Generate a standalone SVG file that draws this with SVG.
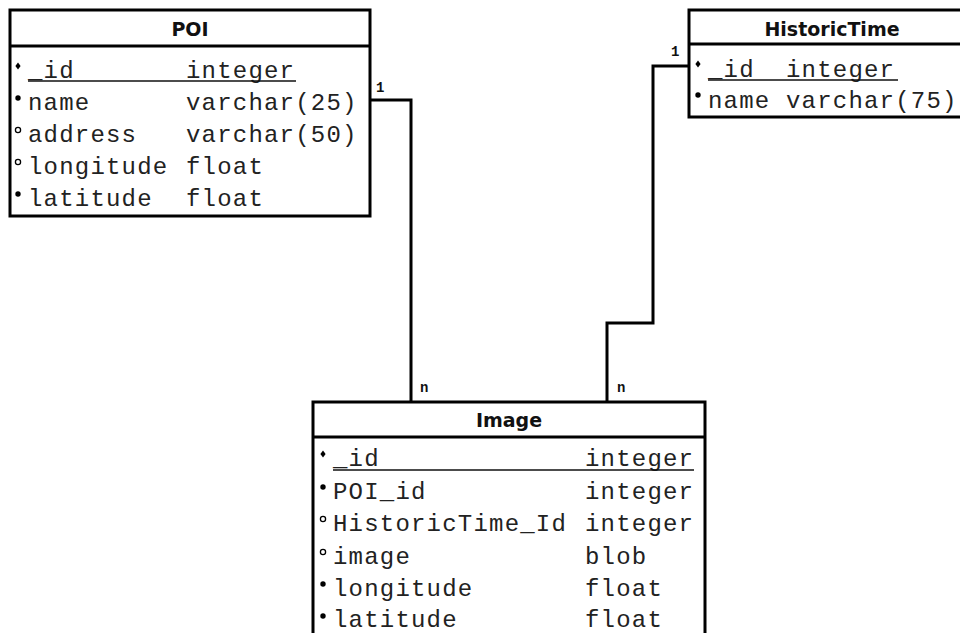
<svg xmlns="http://www.w3.org/2000/svg" width="960" height="633" viewBox="0 0 960 633">
  <style>
    .box { fill: #fff; stroke: #000; stroke-width: 3; }
    .sep { stroke: #000; stroke-width: 3; }
    .ul { stroke: #111; stroke-width: 1.4; }
    .title { font-family: "DejaVu Sans", Verdana, sans-serif; font-weight: bold; font-size: 19px; fill: #111; text-anchor: middle; }
    .col { font-family: "Liberation Mono", "Courier New", monospace; font-size: 24px; letter-spacing: 1.2px; fill: #222; }
    .card { font-family: "Liberation Mono", "Courier New", monospace; font-weight: bold; font-size: 14px; fill: #111; }
    .req { fill: #000; }
    .opt { fill: none; stroke: #000; stroke-width: 1.3; }
    .wire { fill: none; stroke: #000; stroke-width: 3; stroke-linejoin: miter; }
  </style>
  <defs>
    <path id="pk" d="M0,-3.6 L2.6,0 L0,3.6 L-2.6,0 Z" class="req"/>
  </defs>
  <rect width="960" height="633" fill="#fff"/>

  <!-- relationships -->
  <g id="connectors">
    <path class="wire" d="M370,100 H411 V402"/>
    <path class="wire" d="M689,66 H653 V323 H607 V402"/>
    <text class="card" x="376" y="92">1</text>
    <text class="card" x="420" y="392">n</text>
    <text class="card" x="671" y="56">1</text>
    <text class="card" x="617" y="392">n</text>
  </g>

  <!-- POI table -->
  <g id="POI">
    <rect class="box" x="10" y="10" width="360" height="206"/>
    <line class="sep" x1="10" y1="46" x2="370" y2="46"/>
    <text class="title" x="190" y="36">POI</text>
    <use href="#pk" x="18" y="66"/>
    <circle class="req" cx="18" cy="98" r="2.7"/>
    <circle class="opt" cx="18" cy="130" r="2.6"/>
    <circle class="opt" cx="18" cy="162" r="2.6"/>
    <circle class="req" cx="18" cy="194" r="2.7"/>
    <text class="col" x="28" y="78">_id</text>
    <text class="col" x="186" y="78">integer</text>
    <line class="ul" x1="28" y1="81" x2="296" y2="81"/>
    <text class="col" x="28" y="110">name</text>
    <text class="col" x="186" y="110">varchar(25)</text>
    <text class="col" x="28" y="142">address</text>
    <text class="col" x="186" y="142">varchar(50)</text>
    <text class="col" x="28" y="174">longitude</text>
    <text class="col" x="186" y="174">float</text>
    <text class="col" x="28" y="206">latitude</text>
    <text class="col" x="186" y="206">float</text>
  </g>

  <!-- HistoricTime table -->
  <g id="HistoricTime">
    <rect class="box" x="689" y="10" width="290" height="107"/>
    <line class="sep" x1="689" y1="44" x2="979" y2="44"/>
    <text class="title" x="832" y="36">HistoricTime</text>
    <use href="#pk" x="698" y="64"/>
    <circle class="req" cx="698" cy="95" r="2.7"/>
    <text class="col" x="708" y="77">_id</text>
    <text class="col" x="786" y="77">integer</text>
    <line class="ul" x1="708" y1="80" x2="898" y2="80"/>
    <text class="col" x="708" y="108">name</text>
    <text class="col" x="786" y="108">varchar(75)</text>
  </g>

  <!-- Image table -->
  <g id="Image">
    <rect class="box" x="313" y="402" width="392" height="240"/>
    <line class="sep" x1="313" y1="437" x2="705" y2="437"/>
    <text class="title" x="509" y="427">Image</text>
    <use href="#pk" x="323" y="454"/>
    <circle class="req" cx="323" cy="487" r="2.7"/>
    <circle class="opt" cx="323" cy="519" r="2.6"/>
    <circle class="opt" cx="323" cy="552" r="2.6"/>
    <circle class="req" cx="323" cy="584" r="2.7"/>
    <circle class="req" cx="323" cy="616" r="2.7"/>
    <text class="col" x="333" y="466">_id</text>
    <text class="col" x="585" y="466">integer</text>
    <line class="ul" x1="333" y1="470" x2="694" y2="470"/>
    <text class="col" x="333" y="499">POI_id</text>
    <text class="col" x="585" y="499">integer</text>
    <text class="col" x="333" y="531">HistoricTime_Id</text>
    <text class="col" x="585" y="531">integer</text>
    <text class="col" x="333" y="564">image</text>
    <text class="col" x="585" y="564">blob</text>
    <text class="col" x="333" y="596">longitude</text>
    <text class="col" x="585" y="596">float</text>
    <text class="col" x="333" y="627">latitude</text>
    <text class="col" x="585" y="627">float</text>
  </g>
</svg>
